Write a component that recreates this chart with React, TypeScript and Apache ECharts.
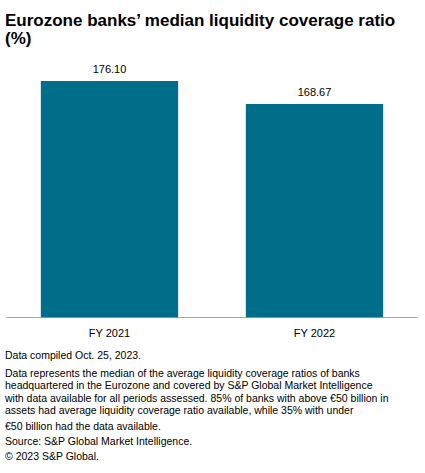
import React, { useEffect, useRef } from "react";
import * as echarts from "echarts";

const titleLines = ["Eurozone banks\u2019 median liquidity coverage ratio", "(%)"];
const categories = ["FY 2021", "FY 2022"];
const values = [176.1, 168.67];
const footLines = [
  "Data compiled Oct. 25, 2023.",
  "Data represents the median of the average liquidity coverage ratios of banks",
  "headquartered in the Eurozone and covered by S&P Global Market Intelligence",
  "with data available for all periods assessed. 85% of banks with above \u20ac50 billion in",
  "assets had average liquidity coverage ratio available, while 35% with under",
  "\u20ac50 billion had the data available.",
  "Source: S&P Global Market Intelligence.",
  "\u00a9 2023 S&P Global.",
];
const footY = [355, 372.5, 385, 397.5, 410, 426, 441, 456];

const FONT = "'Liberation Sans', Arial, sans-serif";

export default function App() {
  const ref = useRef<HTMLDivElement>(null);
  useEffect(() => {
    if (!ref.current) return;
    const chart = echarts.init(ref.current, undefined, { renderer: "svg" });
    const graphics: any[] = [];
    titleLines.forEach((t, i) => {
      graphics.push({
        type: "text",
        left: 5,
        top: i === 0 ? 12 : 30,
        style: { text: t, font: `bold 17px ${FONT}`, fill: "#000" },
      });
    });
    footLines.forEach((t, i) => {
      graphics.push({
        type: "text",
        x: 5,
        y: footY[i],
        style: {
          text: t,
          font: `10.5px ${FONT}`,
          fill: "#000",
          verticalAlign: "middle",
          align: "left",
        },
      });
    });
    chart.setOption({
      animation: false,
      textStyle: { fontFamily: FONT },
      grid: { left: 7, right: 8, top: 68.9, bottom: 473 - 317.3, containLabel: false },
      xAxis: {
        type: "category",
        data: categories,
        axisLine: { lineStyle: { color: "#a6a6a6", width: 1 } },
        axisTick: { show: false },
        axisLabel: { color: "#000", fontSize: 11, margin: 10, fontFamily: FONT },
      },
      yAxis: {
        type: "value",
        min: 100,
        max: 180,
        show: false,
        splitLine: { show: false },
      },
      series: [
        {
          type: "bar",
          data: values,
          barCategoryGap: "33%",
          itemStyle: { color: "#006e88" },
          label: {
            show: true,
            position: "top",
            distance: 7,
            color: "#000",
            fontSize: 11,
            fontFamily: FONT,
            formatter: (p: any) => p.value.toFixed(2),
          },
        },
      ],
      graphic: graphics,
    });
    return () => chart.dispose();
  }, []);
  return (
    <div
      ref={ref}
      style={{ position: "fixed", left: 0, top: 0, width: 425, height: 473, background: "#fff" }}
    />
  );
}
